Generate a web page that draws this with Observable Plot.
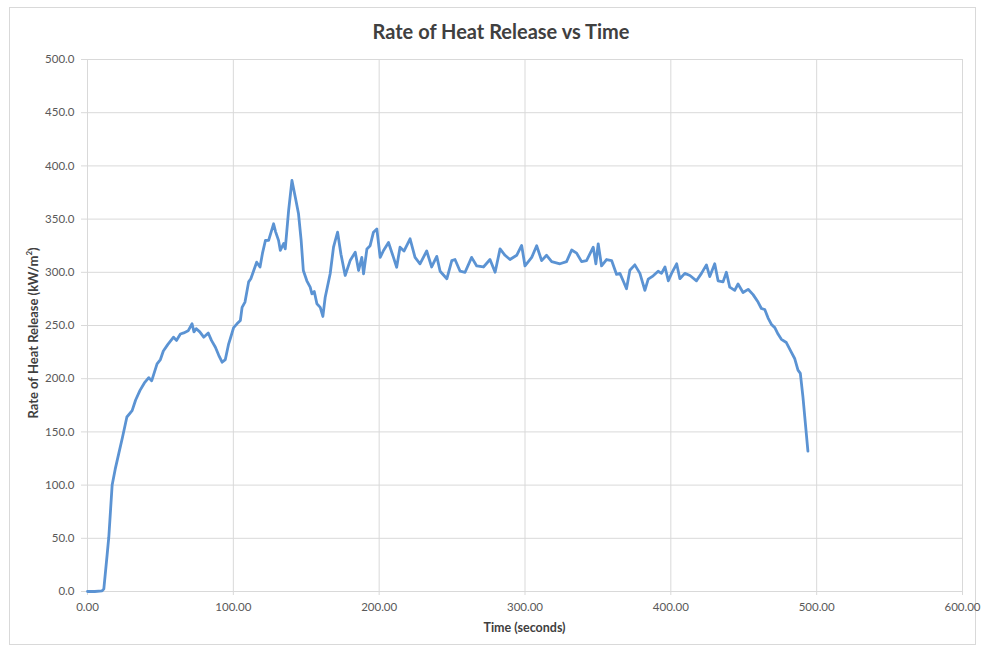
<!DOCTYPE html>
<html><head><meta charset="utf-8">
<script src="https://cdn.jsdelivr.net/npm/d3@7"></script>
<script src="https://cdn.jsdelivr.net/npm/@observablehq/plot@0.6"></script>
<style>
body{margin:0;background:#fff;font-family:Lato,"Open Sans",sans-serif;}
#frame{position:absolute;left:9px;top:7px;width:967px;height:638px;border:1px solid #d9d9d9;box-sizing:border-box;}
#chart{position:absolute;left:0;top:0;}
#title{position:absolute;left:0;width:1002px;top:19px;text-align:center;font-weight:bold;font-size:20px;line-height:24px;color:#404040;}
#xtitle{position:absolute;left:0;width:1049px;top:620px;text-align:center;font-weight:bold;font-size:12.5px;line-height:16px;color:#404040;}
#ytitle{position:absolute;left:31px;top:333px;transform:translate(-50%,-50%) rotate(-90deg);white-space:nowrap;font-weight:bold;font-size:13px;line-height:16px;color:#404040;}
</style></head>
<body>
<div id="frame"></div>
<div id="chart"></div>
<div id="title">Rate of Heat Release vs Time</div>
<div id="xtitle">Time (seconds)</div>
<div id="ytitle">Rate of Heat Release (kW/m<sup style="font-size:8px">2</sup>)</div>
<script>
const time = [0,5,10,11.2,13.5,14.6,16.9,19,21.5,24,27,30.6,33,36,39,42,44,47.7,50,52,55,59,61,63.7,66,69,71.7,73,74.6,77,79.7,82.8,85,87.7,90,92.3,94.5,96.8,98,100.2,102.5,104.8,106,108,110.5,112,114,116,118.3,120,122,124.2,127.6,129,131,132.2,134.5,135.6,137.9,140.2,142.5,144.7,146.5,148,150.4,152.7,153.9,155.5,157.3,159.6,161.4,163,166.4,168.7,169.9,171.5,173.8,176.7,180.1,183.6,185.9,188.1,189.3,191.6,193.8,196.1,198.4,200.7,203,206.4,209.8,212,214.3,217,221.2,224.6,228,232.6,236,239.5,241.8,246.4,249.8,252,255.5,258.9,263.4,266.9,271.5,276,279.5,282.9,286.3,289.7,294.3,297.7,300,304.6,308,311.4,314.8,318.3,324,328.5,332,335.4,338.8,342.2,346.8,348.6,350.2,352.5,355.9,359.4,362.8,365.1,367.3,369.6,371.9,375.3,378.8,382.2,384.5,387.9,391.3,393.6,396,398.3,400.5,404,406.2,409.6,413.1,417.6,421,424.4,426.7,430.1,432.4,435.8,438.1,440.4,443.8,446.1,449.5,453,456.4,459.8,462.1,464.4,466.7,469,471.3,473.5,475.8,479.2,482.6,484.9,487.2,488.8,490.6,494];
const heatRelease = [0,0,0.5,2.5,35,51,100,115,130,145,164,170,180,189,196,201,198,214,218,226,232,239,236,242,243,245,251.6,244,247,244,239,243,236,229.6,222,215.5,218,232.8,238,248,251.6,254.7,267,272,291,294,301.7,309.5,305,318,329.9,330,345.6,338,330,320.7,327,322,358,386.3,370.6,355,330,301.7,292,286,279.8,282,270.4,267,258.5,276.6,298.6,323.6,329.9,337.7,317,297,311,318.9,301.7,314,298.6,322,325,337.7,340.8,314,320.5,328,314,304.8,323.6,320,331.5,314,308,320,305,315,301,293.9,311,312,301,300,314,306,305,312,300,322,316,312,316,325.2,306,314,325,311,316,310,308,310,321,318,310,311,323.6,308,326.8,306,312,311,298,299,292,284.5,302,307,299,283,293.5,296.7,301,299,305,292,299,308,294,299,297,292,299,307,296,308,292,291,300,286,283,289,281,284,279,272,266,265,257,251,248,242,237,234,225,219,208,205,182.6,132];
const xTicks = [0,100,200,300,400,500,600];
const yTicks = [0,50,100,150,200,250,300,350,400,450,500];

const data = time.map((t,i)=>({t, q: heatRelease[i]}));
const grid = "#d9d9d9";
const plot = Plot.plot({
  width: 983, height: 650,
  marginLeft: 87, marginRight: 21, marginTop: 59, marginBottom: 59,
  style: {fontFamily: "Lato, 'Open Sans', sans-serif", fontSize: "11.5px", background: "transparent", overflow: "visible"},
  x: {domain: [0,600], label: null},
  y: {domain: [0,500], label: null},
  marks: [
    Plot.gridX(xTicks, {stroke: grid, strokeOpacity: 1}),
    Plot.gridY(yTicks, {stroke: grid, strokeOpacity: 1}),
    Plot.axisX(xTicks, {tickSize: 4, tickPadding: 7, stroke: grid, strokeOpacity: 1, color: "#595959", tickFormat: d3.format(".2f"), label: null}),
    Plot.axisY(yTicks, {tickSize: 6, tickPadding: 7, stroke: grid, strokeOpacity: 1, color: "#595959", tickFormat: d3.format(".1f"), label: null}),
    Plot.line(data, {x: "t", y: "q", stroke: "#5b93d3", strokeWidth: 2.8, strokeLinejoin: "round", strokeLinecap: "round"})
  ]
});
document.getElementById("chart").appendChild(plot);
</script>
</body></html>
